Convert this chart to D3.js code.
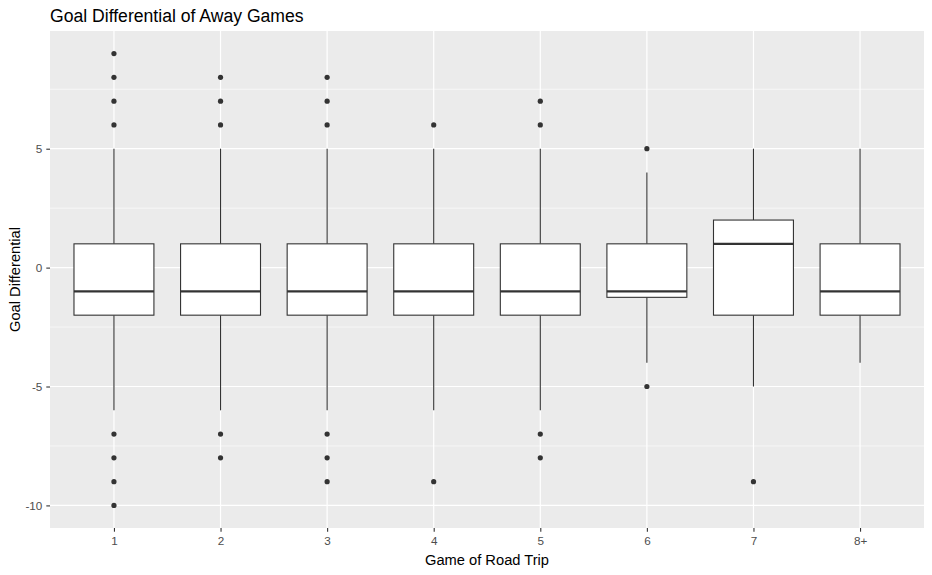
<!DOCTYPE html>
<html>
<head>
<meta charset="utf-8">
<script src="https://cdn.jsdelivr.net/npm/d3@7"></script>
<style>
  body { margin: 0; background: #fff; }
  text { font-family: "Liberation Sans", Arial, sans-serif; }
</style>
</head>
<body>
<div id="chart"></div>
<script>
// Box stats
let games = ["1", "2", "3", "4", "5", "6", "7", "8+"];
let lowerWhisker = [-6, -6, -6, -6, -6, -4, -5, -4];
let q1 = [-2, -2, -2, -2, -2, -1.25, -2, -2];
let medians = [-1, -1, -1, -1, -1, -1, 1, -1];
let q3 = [1, 1, 1, 1, 1, 1, 2, 1];
let upperWhisker = [5, 5, 5, 5, 5, 4, 5, 5];
let outliers = [
  [6, 7, 8, 9, -7, -8, -9, -10],
  [6, 7, 8, -7, -8],
  [6, 7, 8, -7, -8, -9],
  [6, -9],
  [6, 7, -7, -8],
  [5, -5],
  [-9],
  []
];
let yTicks = [-10, -5, 0, 5];
let yMinor = [-7.5, -2.5, 2.5, 7.5];

let svgWidth = 932;
let svgHeight = 575;
let margin = { top: 31, right: 8, bottom: 47, left: 50 };
let width = svgWidth - margin.left - margin.right;
let height = svgHeight - margin.top - margin.bottom;

let svg = d3.select("#chart")
  .append("svg")
  .attr("width", svgWidth)
  .attr("height", svgHeight);

// Title
svg.append("text")
  .attr("x", margin.left)
  .attr("y", 22)
  .attr("font-size", 17.6)
  .attr("fill", "#000")
  .text("Goal Differential of Away Games");

let chartGroup = svg.append("g")
  .attr("transform", `translate(${margin.left}, ${margin.top})`);

// Scales (ggplot style expansion)
let xScale = d3.scalePoint()
  .domain(games)
  .range([0, width])
  .padding(0.6);
let step = xScale.step();

let yMin = -10, yMax = 9, pad = (yMax - yMin) * 0.05;
let yScale = d3.scaleLinear()
  .domain([yMin - pad, yMax + pad])
  .range([height, 0]);

// Panel background
chartGroup.append("rect")
  .attr("width", width)
  .attr("height", height)
  .attr("fill", "#EBEBEB");

// Grid lines
chartGroup.selectAll(".minor")
  .data(yMinor)
  .enter()
  .append("line")
  .attr("x1", 0).attr("x2", width)
  .attr("y1", d => yScale(d)).attr("y2", d => yScale(d))
  .attr("stroke", "#fff")
  .attr("stroke-width", 0.6);

chartGroup.selectAll(".major-y")
  .data(yTicks)
  .enter()
  .append("line")
  .attr("x1", 0).attr("x2", width)
  .attr("y1", d => yScale(d)).attr("y2", d => yScale(d))
  .attr("stroke", "#fff")
  .attr("stroke-width", 1.2);

chartGroup.selectAll(".major-x")
  .data(games)
  .enter()
  .append("line")
  .attr("x1", d => xScale(d)).attr("x2", d => xScale(d))
  .attr("y1", 0).attr("y2", height)
  .attr("stroke", "#fff")
  .attr("stroke-width", 1.2);

// Boxes
let boxWidth = step * 0.75;
let boxes = chartGroup.selectAll(".box")
  .data(games)
  .enter()
  .append("g")
  .attr("transform", d => `translate(${xScale(d)}, 0)`);

boxes.append("line")
  .attr("y1", (d, i) => yScale(upperWhisker[i]))
  .attr("y2", (d, i) => yScale(q3[i]))
  .attr("stroke", "#333")
  .attr("stroke-width", 1.1);

boxes.append("line")
  .attr("y1", (d, i) => yScale(q1[i]))
  .attr("y2", (d, i) => yScale(lowerWhisker[i]))
  .attr("stroke", "#333")
  .attr("stroke-width", 1.1);

boxes.append("rect")
  .attr("x", -boxWidth / 2)
  .attr("width", boxWidth)
  .attr("y", (d, i) => yScale(q3[i]))
  .attr("height", (d, i) => yScale(q1[i]) - yScale(q3[i]))
  .attr("fill", "#fff")
  .attr("stroke", "#333")
  .attr("stroke-width", 1.1);

boxes.append("line")
  .attr("x1", -boxWidth / 2)
  .attr("x2", boxWidth / 2)
  .attr("y1", (d, i) => yScale(medians[i]))
  .attr("y2", (d, i) => yScale(medians[i]))
  .attr("stroke", "#333")
  .attr("stroke-width", 2.1);

boxes.each(function(d, i) {
  d3.select(this).selectAll("circle")
    .data(outliers[i])
    .enter()
    .append("circle")
    .attr("cx", 0)
    .attr("cy", v => yScale(v))
    .attr("r", 2.6)
    .attr("fill", "#333");
});

// Axes
let bottomAxis = d3.axisBottom(xScale).tickSize(3.7).tickPadding(5);
let leftAxis = d3.axisLeft(yScale)
  .tickValues(yTicks)
  .tickFormat(d => String(d))
  .tickSize(3.7)
  .tickPadding(4);

let xAxis = chartGroup.append("g")
  .attr("transform", `translate(0, ${height})`)
  .call(bottomAxis);
let yAxis = chartGroup.append("g")
  .call(leftAxis);

[xAxis, yAxis].forEach(ax => {
  ax.select(".domain").remove();
  ax.selectAll(".tick line").attr("stroke", "#333").attr("stroke-width", 1.1);
  ax.selectAll(".tick text")
    .attr("fill", "#4D4D4D")
    .attr("font-size", 11.7)
    .attr("font-family", "Liberation Sans, Arial, sans-serif");
});

// Axis titles
svg.append("text")
  .attr("x", margin.left + width / 2)
  .attr("y", 565)
  .attr("text-anchor", "middle")
  .attr("font-size", 14.7)
  .text("Game of Road Trip");

svg.append("text")
  .attr("transform", `translate(20, ${margin.top + height / 2}) rotate(-90)`)
  .attr("text-anchor", "middle")
  .attr("font-size", 14.7)
  .text("Goal Differential");
</script>
</body>
</html>
